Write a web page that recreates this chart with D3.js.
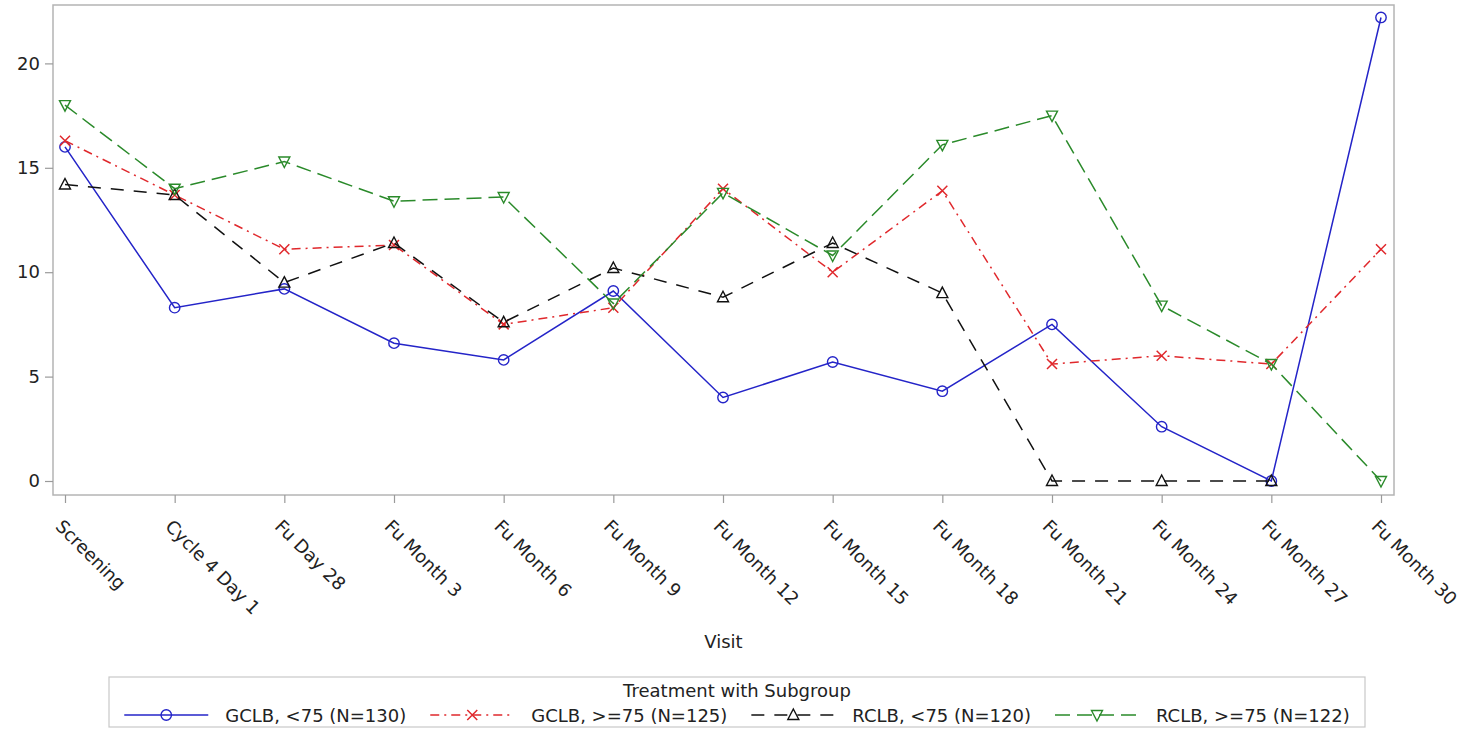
<!DOCTYPE html>
<html>
<head>
<meta charset="utf-8">
<script src="https://cdn.jsdelivr.net/npm/d3@7"></script>
<style>
    body { margin: 0; background: #fff; }
    svg text { font-family: "DejaVu Sans", sans-serif; fill: #222; }
</style>
</head>
<body>
<script>
var visits = ["Screening", "Cycle 4 Day 1", "Fu Day 28", "Fu Month 3", "Fu Month 6", "Fu Month 9",
    "Fu Month 12", "Fu Month 15", "Fu Month 18", "Fu Month 21", "Fu Month 24", "Fu Month 27", "Fu Month 30"]

var yTicks = [0, 5, 10, 15, 20]

var gclbLt75 = [16.0, 8.3, 9.2, 6.6, 5.8, 9.1, 4.0, 5.7, 4.3, 7.5, 2.6, 0, 22.2]
var gclbGe75 = [16.3, 13.7, 11.1, 11.3, 7.5, 8.3, 14.0, 10.0, 13.9, 5.6, 6.0, 5.6, 11.1]
var rclbLt75 = [14.2, 13.7, 9.5, 11.4, 7.6, 10.2, 8.8, 11.4, 9.0, 0, 0, 0, null]
var rclbGe75 = [18.0, 14.0, 15.3, 13.4, 13.6, 8.5, 13.8, 10.8, 16.1, 17.5, 8.4, 5.6, 0]

var seriesNames = ["GCLB, <75 (N=130)", "GCLB, >=75 (N=125)", "RCLB, <75 (N=120)", "RCLB, >=75 (N=122)"]

var series = [
    { name: seriesNames[0], values: gclbLt75, color: "#2424c8", dash: null, marker: "circle" },
    { name: seriesNames[1], values: gclbGe75, color: "#e0282c", dash: "9,5,2,5", marker: "x" },
    { name: seriesNames[2], values: rclbLt75, color: "#111111", dash: "13,10", marker: "up" },
    { name: seriesNames[3], values: rclbGe75, color: "#2a8a2a", dash: "15,7", marker: "down" }
]

var W = 1466, H = 730
var frame = { left: 53, right: 1394, top: 5, bottom: 495 }

var svg = d3.select("body").append("svg")
    .attr("width", W)
    .attr("height", H)

var x = d3.scalePoint()
    .domain(visits)
    .range([frame.left + 12, frame.right - 13])

var y = d3.scaleLinear()
    .domain([0, 20])
    .range([481, 63.4])

// frame
svg.append("rect")
    .attr("x", frame.left)
    .attr("y", frame.top)
    .attr("width", frame.right - frame.left)
    .attr("height", frame.bottom - frame.top)
    .attr("fill", "none")
    .attr("stroke", "#b4b4b4")
    .attr("stroke-width", 1.5)

// y axis
var yAxis = svg.append("g")
    .attr("transform", "translate(" + frame.left + ",0)")
    .call(d3.axisLeft(y).tickValues(yTicks).tickSize(8).tickPadding(5))
yAxis.select(".domain").remove()
yAxis.selectAll(".tick line").attr("stroke", "#9a9a9a").attr("stroke-width", 1.2)
yAxis.selectAll(".tick text")
    .style("font-size", "18px")
    .attr("fill", "#222")
    .attr("font-family", null)

// x axis
var xAxis = svg.append("g")
    .attr("transform", "translate(0," + frame.bottom + ")")
    .call(d3.axisBottom(x).tickSize(8))
xAxis.select(".domain").remove()
xAxis.selectAll(".tick line").attr("stroke", "#9a9a9a").attr("stroke-width", 1.2)
xAxis.selectAll(".tick text").remove()

svg.append("g").selectAll("text")
    .data(visits)
    .join("text")
    .attr("transform", function (d) { return "translate(" + (x(d) - 6) + ",523) rotate(45)" })
    .attr("dy", "0.35em")
    .attr("text-anchor", "start")
    .style("font-size", "18px")
    .text(function (d) { return d })

svg.append("text")
    .attr("x", (frame.left + frame.right) / 2)
    .attr("y", 648)
    .attr("text-anchor", "middle")
    .style("font-size", "18px")
    .text("Visit")

// markers
var drawMarker = function (g, type, color) {
    if (type == "circle") {
        g.append("circle").attr("r", 5.2)
            .attr("fill", "none").attr("stroke", color).attr("stroke-width", 1.4)
    } else if (type == "x") {
        g.append("path").attr("d", "M-5,-5L5,5M-5,5L5,-5")
            .attr("fill", "none").attr("stroke", color).attr("stroke-width", 1.5)
    } else if (type == "up") {
        g.append("path").attr("d", "M0,-6L5.5,4.5L-5.5,4.5Z")
            .attr("fill", "none").attr("stroke", color).attr("stroke-width", 1.4)
    } else {
        g.append("path").attr("d", "M0,6L5.5,-4.5L-5.5,-4.5Z")
            .attr("fill", "none").attr("stroke", color).attr("stroke-width", 1.4)
    }
}

var line = d3.line()
    .defined(function (d) { return d.v != null })
    .x(function (d) { return x(d.k) })
    .y(function (d) { return y(d.v) })

series.forEach(function (s) {
    var pts = s.values.map(function (v, i) { return { k: visits[i], v: v } })
    svg.append("path")
        .datum(pts)
        .attr("d", line)
        .attr("fill", "none")
        .attr("stroke", s.color)
        .attr("stroke-width", 1.5)
        .attr("stroke-dasharray", s.dash)

    pts.filter(function (d) { return d.v != null }).forEach(function (d) {
        var g = svg.append("g").attr("transform", "translate(" + x(d.k) + "," + y(d.v) + ")")
        drawMarker(g, s.marker, s.color)
    })
})

// legend
var box = { left: 109, right: 1365, top: 677, bottom: 727 }
svg.append("rect")
    .attr("x", box.left)
    .attr("y", box.top)
    .attr("width", box.right - box.left)
    .attr("height", box.bottom - box.top)
    .attr("fill", "none")
    .attr("stroke", "#c8c8c8")
    .attr("stroke-width", 1.2)

svg.append("text")
    .attr("x", (box.left + box.right) / 2)
    .attr("y", 697)
    .attr("text-anchor", "middle")
    .style("font-size", "18px")
    .text("Treatment with Subgroup")

var legend = svg.append("g")
var lineLen = 84, gapText = 17, gapItem = 24
var cx = 0
series.forEach(function (s, i) {
    var item = legend.append("g").attr("transform", "translate(" + cx + ",0)")
    item.append("line")
        .attr("x1", 0).attr("x2", lineLen)
        .attr("y1", 715).attr("y2", 715)
        .attr("stroke", s.color)
        .attr("stroke-width", 1.5)
        .attr("stroke-dasharray", s.dash)
    var m = item.append("g").attr("transform", "translate(" + (lineLen / 2) + ",715)")
    drawMarker(m, s.marker, s.color)
    var t = item.append("text")
        .attr("x", lineLen + gapText)
        .attr("y", 722)
        .style("font-size", "18px")
        .text(s.name)
    cx += lineLen + gapText + t.node().getComputedTextLength() + gapItem
})
var total = cx - gapItem
legend.attr("transform", "translate(" + ((box.left + box.right) / 2 - total / 2) + ",0)")
</script>
</body>
</html>
